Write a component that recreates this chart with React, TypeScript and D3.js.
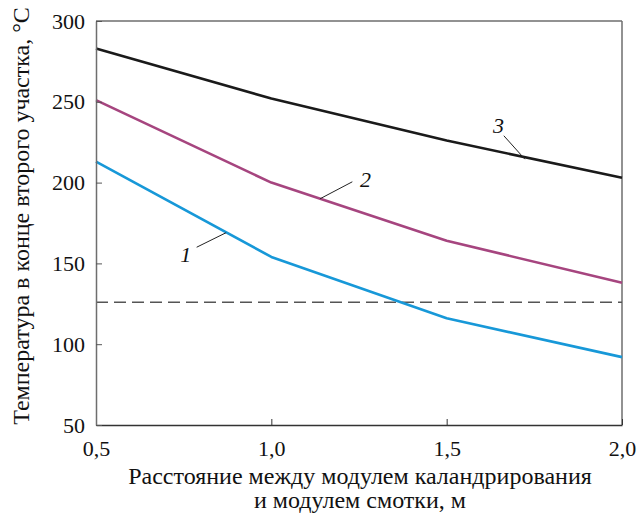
import React, { useEffect, useRef } from "react";
import * as d3 from "d3";

const distances = [0.5, 1.0, 1.5, 2.0];
const curve1 = [213, 154, 116, 92];
const curve2 = [251, 200, 164, 138];
const curve3 = [283, 252, 226, 203];
const limitTemp = 126;
const xTicks = [0.5, 1.0, 1.5, 2.0];
const yTicks = [50, 100, 150, 200, 250, 300];

const series = [
  { name: "1", values: curve1, color: "#1798d8" },
  { name: "2", values: curve2, color: "#a6457f" },
  { name: "3", values: curve3, color: "#1a1a1a" },
];

const FONT = '"Liberation Serif", Tinos, "Times New Roman", serif';

const App = () => {
  const ref = useRef<SVGSVGElement>(null);

  useEffect(() => {
    const left = 96, right = 622, top = 21, bottom = 425;

    const svg = d3.select(ref.current);
    svg.selectAll("*").remove();

    const x = d3.scaleLinear().domain([0.5, 2.0]).range([left, right]);
    const y = d3.scaleLinear().domain([50, 300]).range([bottom, top]);

    // frame: top and right lighter
    svg.append("line").attr("x1", left).attr("x2", right).attr("y1", top).attr("y2", top)
      .attr("stroke", "#6e6e6e").attr("stroke-width", 1.5);
    svg.append("line").attr("x1", right).attr("x2", right).attr("y1", top).attr("y2", bottom)
      .attr("stroke", "#6e6e6e").attr("stroke-width", 1.5);

    // dashed reference line
    svg.append("line")
      .attr("x1", left).attr("x2", right)
      .attr("y1", y(limitTemp)).attr("y2", y(limitTemp))
      .attr("stroke", "#555").attr("stroke-width", 1.5)
      .attr("stroke-dasharray", "12,6");

    const line = d3.line<number>()
      .x((_, i) => x(distances[i]))
      .y((d) => y(d));

    series.forEach((s) => {
      svg.append("path")
        .datum(s.values)
        .attr("d", line)
        .attr("fill", "none")
        .attr("stroke", s.color)
        .attr("stroke-width", 2.6)
        .attr("stroke-linejoin", "round");
    });

    // axes
    const xAxis = svg.append("g").attr("transform", `translate(0,${bottom})`)
      .call(d3.axisBottom(x).tickValues(xTicks).tickSizeInner(-6).tickSizeOuter(0)
        .tickFormat((d) => d3.format(".1f")(d as number).replace(".", ",")));
    xAxis.attr("font-family", null).attr("font-size", null);
    xAxis.select(".domain").attr("stroke", "#333").attr("stroke-width", 1.5);
    xAxis.selectAll(".tick line").attr("stroke", "#333");
    xAxis.selectAll("text").style("font-family", FONT).style("font-size", "22px")
      .attr("fill", "#111").attr("dy", "1.25em");

    const yAxis = svg.append("g").attr("transform", `translate(${left},0)`)
      .call(d3.axisLeft(y).tickValues(yTicks).tickSizeInner(-6).tickSizeOuter(0));
    yAxis.attr("font-family", null).attr("font-size", null);
    yAxis.select(".domain").attr("stroke", "#6e6e6e").attr("stroke-width", 1.5);
    yAxis.selectAll(".tick line").attr("stroke", "#555");
    yAxis.selectAll("text").style("font-family", FONT).style("font-size", "22px")
      .attr("fill", "#111").attr("x", -11);

    // curve labels with leader lines
    const labels = [
      { t: "1", tx: 0.74, ty: 151, lx1: 0.787, ly1: 160, lx2: 0.871, ly2: 169 },
      { t: "2", tx: 1.253, ty: 197, lx1: 1.139, ly1: 190, lx2: 1.231, ly2: 200.5 },
      { t: "3", tx: 1.632, ty: 231, lx1: 1.663, ly1: 229, lx2: 1.723, ly2: 214.5 },
    ];
    labels.forEach((l) => {
      svg.append("line")
        .attr("x1", x(l.lx1)).attr("y1", y(l.ly1))
        .attr("x2", x(l.lx2)).attr("y2", y(l.ly2))
        .attr("stroke", "#222").attr("stroke-width", 1);
      svg.append("text")
        .attr("x", x(l.tx)).attr("y", y(l.ty))
        .style("font-family", FONT).attr("font-style", "italic")
        .style("font-size", "22px").attr("fill", "#111")
        .text(l.t);
    });

    // axis titles
    const xt = svg.append("text").attr("text-anchor", "middle")
      .style("font-family", FONT).style("font-size", "24px").attr("fill", "#111");
    xt.append("tspan").attr("x", 360).attr("y", 484).text("Расстояние между модулем каландрирования");
    xt.append("tspan").attr("x", 360).attr("y", 508).text("и модулем смотки, м");

    svg.append("text")
      .attr("transform", `translate(29,216) rotate(-90)`)
      .attr("text-anchor", "middle")
      .style("font-family", FONT).style("font-size", "24px").attr("fill", "#111")
      .text("Температура в конце второго участка, °С");
  }, []);

  return (
    <svg ref={ref} width={638} height={514}
      style={{ position: "absolute", left: 0, top: 0, background: "#fff" }} />
  );
};

export default App;
